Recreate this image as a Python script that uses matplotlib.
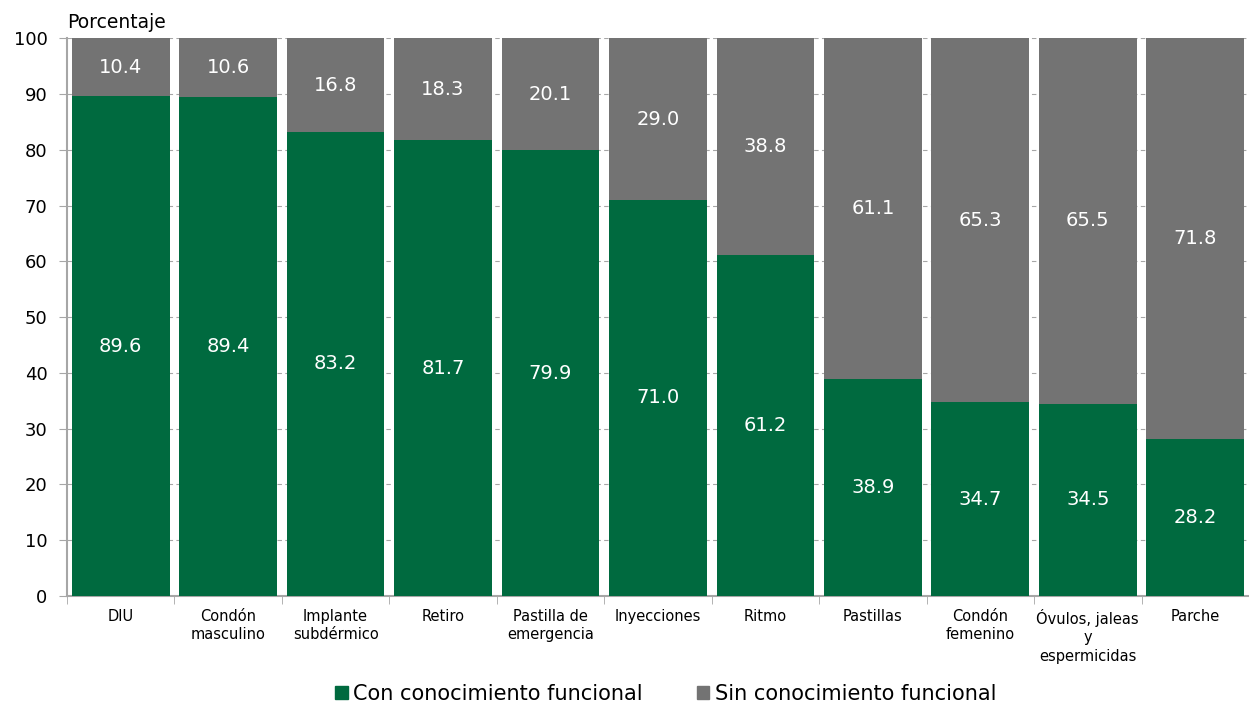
import numpy as np
import matplotlib.pyplot as plt
from matplotlib.patches import Patch

plt.rcParams['font.family'] = ['DejaVu Sans']

categories = ["DIU", "Condón\nmasculino", "Implante\nsubdérmico", "Retiro",
              "Pastilla de\nemergencia", "Inyecciones", "Ritmo", "Pastillas",
              "Condón\nfemenino", "Óvulos, jaleas\ny\nespermicidas", "Parche"]
con_conocimiento = [89.6, 89.4, 83.2, 81.7, 79.9, 71.0, 61.2, 38.9, 34.7, 34.5, 28.2]
sin_conocimiento = [10.4, 10.6, 16.8, 18.3, 20.1, 29.0, 38.8, 61.1, 65.3, 65.5, 71.8]
series_names = ["Con conocimiento funcional", "Sin conocimiento funcional"]

green = "#006a3f"
gray = "#737373"

fig = plt.figure(figsize=(12.49, 7.07), dpi=100)
ax = fig.add_axes([0.0536, 0.157, 0.9464, 0.789])

x = np.arange(len(categories))
width = 0.91
con = np.array(con_conocimiento)
sin = np.array(sin_conocimiento)

ax.bar(x, con, width, color=green, zorder=3)
ax.bar(x, sin, width, bottom=con, color=gray, zorder=3)

for xi, c, s in zip(x, con, sin):
    ax.text(xi, c / 2, f"{c:.1f}", ha="center", va="center", color="white", fontsize=14, zorder=4)
    ax.text(xi, c + s / 2, f"{s:.1f}", ha="center", va="center", color="white", fontsize=14, zorder=4)

ax.set_xlim(-0.5, len(categories) - 0.5)
ax.set_ylim(0, 100)
ax.set_yticks(np.arange(0, 101, 10))
ax.tick_params(axis="y", labelsize=13, length=6, color="#a6a6a6", direction="out", pad=8)

ax.set_xticks(x)
ax.set_xticklabels(categories, fontsize=10.5, linespacing=1.3)
ax.tick_params(axis="x", which="major", length=0, pad=9)
ax.set_xticks(np.arange(-0.5, len(categories), 1), minor=True)
ax.tick_params(axis="x", which="minor", length=6, color="#a6a6a6")

ax.grid(axis="y", color="#a6a6a6", linestyle=(0, (4, 3)), linewidth=0.8, zorder=0)
for side in ["top", "right"]:
    ax.spines[side].set_visible(False)
for side in ["left", "bottom"]:
    ax.spines[side].set_color("#a6a6a6")
    ax.spines[side].set_linewidth(1.5)

fig.text(0.0536, 0.955, "Porcentaje", fontsize=13.5, ha="left", va="bottom")

handles = [Patch(color=green), Patch(color=gray)]
fig.legend(handles, series_names, loc="lower center", bbox_to_anchor=(0.533, -0.022),
           ncol=2, frameon=False, fontsize=15, handlelength=0.6, handleheight=0.6,
           handletextpad=0.25, columnspacing=2.6)

fig.savefig("out.png", dpi=100)
